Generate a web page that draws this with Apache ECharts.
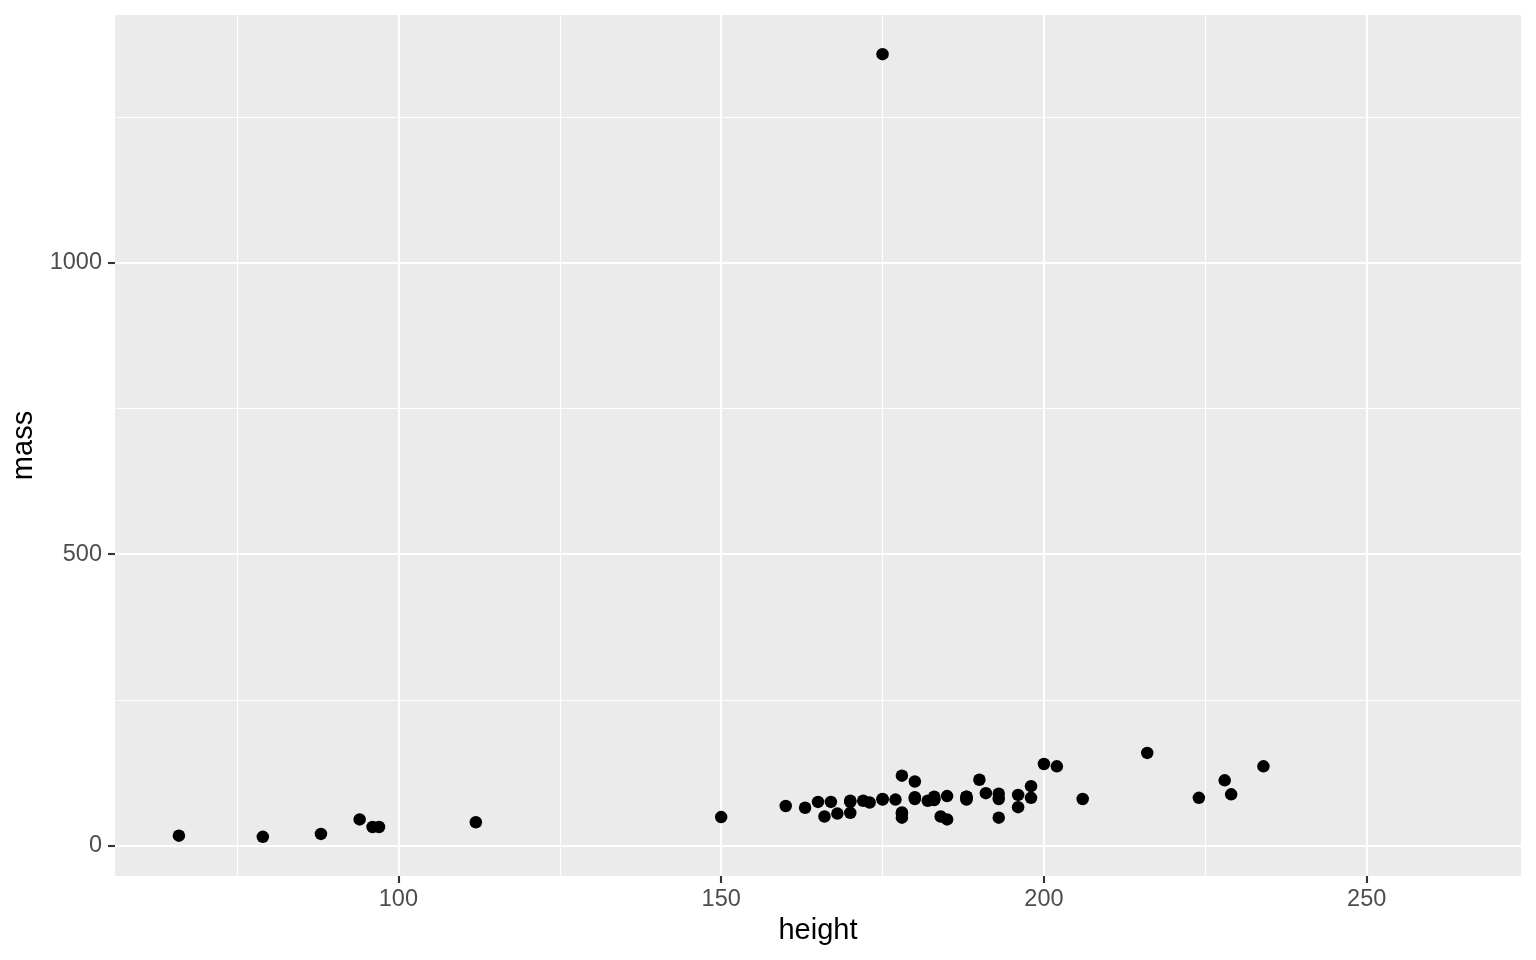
<!DOCTYPE html>
<html>
<head>
<meta charset="utf-8">
<script src="https://cdn.jsdelivr.net/npm/echarts@6/dist/echarts.min.js"></script>
<style>html,body{margin:0;padding:0;background:#fff}#c{width:1536px;height:960px}</style>
</head>
<body>
<div id="c"></div>
<script>
const height = [172,167,96,202,150,178,165,97,183,182,188,228,180,173,175,170,180,66,170,183,200,190,177,175,180,88,160,193,191,185,196,224,112,175,178,79,94,163,188,198,196,184,188,185,183,170,166,193,183,168,198,229,193,178,216,234,188,178,206];
const mass = [77,75,32,136,49,120,75,32,84,77,84,112,80,74,1358,77,110,17,75,78.2,140,113,79,79,83,20,68,89,90,45,66,82,40,80,55,15,45,65,84,82,87,50,80,85,80,56.2,50,80,79,55,102,88,48,57,159,136,79,48,80];
const xMajor = [100,150,200,250];
const xMinor = [75,125,175,225];
const yMajor = [0,500,1000];
const yMinor = [250,750,1250];
const xRange = [56.1, 273.9];
const yRange = [-52.15, 1425.15];

const FONT = 'Liberation Sans, Arial, Helvetica, sans-serif';
const points = height.map((h,i)=>[h, mass[i]]);
const chart = echarts.init(document.getElementById('c'));
const minorAxis = (range, vals) => ({
  type:'value',min:range[0],max:range[1],
  axisLine:{show:false,onZero:false},
  axisTick:{show:false,customValues:vals},
  axisLabel:{show:false,customValues:vals},
  splitLine:{show:true,lineStyle:{color:'#fff',width:1.1}}
});
chart.setOption({
  animation:false,
  grid:{left:115,right:15,top:15,bottom:84,show:true,backgroundColor:'#EBEBEB',borderWidth:0},
  xAxis:[{
    type:'value',min:xRange[0],max:xRange[1],
    name:'height',nameLocation:'middle',nameGap:40,
    nameTextStyle:{color:'#000',fontSize:29,fontFamily:FONT},
    axisLine:{show:false,onZero:false},
    axisTick:{show:true,inside:false,length:7,customValues:xMajor,lineStyle:{color:'#333',width:2.1}},
    axisLabel:{customValues:xMajor,color:'#4D4D4D',fontSize:23.5,margin:12,fontFamily:FONT,formatter:v=>String(v)},
    splitLine:{show:true,lineStyle:{color:'#fff',width:2.1}}
  }, minorAxis(xRange, xMinor)],
  yAxis:[{
    type:'value',min:yRange[0],max:yRange[1],
    name:'mass',nameLocation:'middle',nameGap:74,
    nameTextStyle:{color:'#000',fontSize:29,fontFamily:FONT},
    axisLine:{show:false,onZero:false},
    axisTick:{show:true,inside:false,length:7,customValues:yMajor,lineStyle:{color:'#333',width:2.1}},
    axisLabel:{customValues:yMajor,color:'#4D4D4D',fontSize:23.5,margin:13,fontFamily:FONT,formatter:v=>String(v)},
    splitLine:{show:true,lineStyle:{color:'#fff',width:2.1}}
  }, minorAxis(yRange, yMinor)],
  series:[
    {type:'scatter',data:[],xAxisIndex:1,yAxisIndex:1,silent:true},
    {type:'scatter',data:points,z:3,symbolSize:12.5,itemStyle:{color:'#000',opacity:1},silent:true}
  ]
});
</script>
</body>
</html>
